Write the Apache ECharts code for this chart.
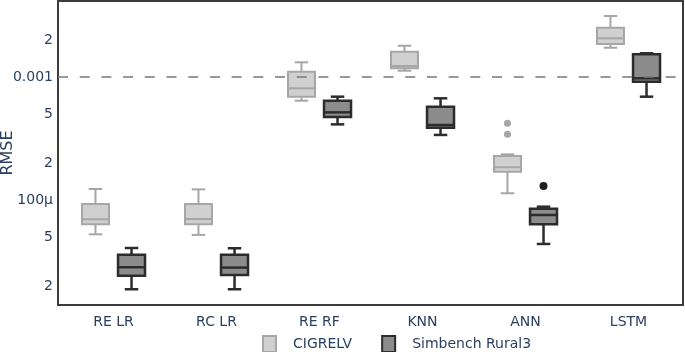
<!DOCTYPE html>
<html><head><meta charset="utf-8">
<script src="https://cdn.jsdelivr.net/npm/echarts@6/dist/echarts.min.js"></script>
<style>html,body{margin:0;padding:0;background:#fff}#c{width:685px;height:352px}</style>
</head><body><div id="c"></div>
<script>
const categories = ['RE LR', 'RC LR', 'RE RF', 'KNN', 'ANN', 'LSTM'];

const cigreMin = [5.26e-5, 5.2e-5, 6.42e-4, 1.125e-3, 1.134e-4, 1.73e-3];
const cigreQ1  = [6.34e-5, 6.34e-5, 6.92e-4, 1.177e-3, 1.70e-4, 1.855e-3];
const cigreMed = [6.97e-5, 7.0e-5, 8.09e-4, 1.229e-3, 1.845e-4, 2.063e-3];
const cigreQ3  = [9.28e-5, 9.28e-5, 1.104e-3, 1.607e-3, 2.279e-4, 2.517e-3];
const cigreMax = [1.228e-4, 1.22e-4, 1.317e-3, 1.796e-3, 2.352e-4, 3.134e-3];
const cigreOutlierCat = [4, 4];
const cigreOutlierVal = [4.20e-4, 3.42e-4];

const simMin = [1.88e-5, 1.88e-5, 4.12e-4, 3.38e-4, 4.39e-5, 6.92e-4];
const simQ1  = [2.42e-5, 2.45e-5, 4.73e-4, 3.87e-4, 6.34e-5, 9.16e-4];
const simMed = [2.84e-5, 2.82e-5, 5.16e-4, 4.07e-4, 7.55e-5, 9.76e-4];
const simQ3  = [3.59e-5, 3.59e-5, 6.42e-4, 5.74e-4, 8.50e-5, 1.53e-3];
const simMax = [4.07e-5, 4.05e-5, 6.92e-4, 6.71e-4, 8.82e-5, 1.559e-3];
const simOutlierCat = [4];
const simOutlierVal = [1.30e-4];

const yTickValues = [2e-3, 1e-3, 5e-4, 2e-4, 1e-4, 5e-5, 2e-5];
const yTickLabels = ['2', '0.001', '5', '2', '100μ', '5', '2'];
const refLineValue = 1e-3;
const yMin = 1.40e-5, yMax = 4.15e-3;

const FONT = 'DejaVu Sans';
const TXT = '#2a3f5f';
const BOX_FRAC = 0.262;
const OFF_FRAC = 0.175;

function boxRenderer(offFrac, stroke, fill, lw) {
  return function (params, api) {
    const i = api.value(0);
    const band = api.size([1, 0])[0];
    const cx = api.coord([i, api.value(3)])[0] + offFrac * band;
    const w = band * BOX_FRAC;
    const y = k => api.coord([i, api.value(k)])[1];
    const yMn = y(1), yQ1 = y(2), yMd = y(3), yQ3 = y(4), yMx = y(5);
    const ls = {stroke: stroke, lineWidth: lw, fill: null};
    return {type: 'group', children: [
      {type: 'line', shape: {x1: cx, y1: yQ3, x2: cx, y2: yMx}, style: ls},
      {type: 'line', shape: {x1: cx, y1: yQ1, x2: cx, y2: yMn}, style: ls},
      {type: 'line', shape: {x1: cx - w / 4, y1: yMx, x2: cx + w / 4, y2: yMx}, style: ls},
      {type: 'line', shape: {x1: cx - w / 4, y1: yMn, x2: cx + w / 4, y2: yMn}, style: ls},
      {type: 'rect', shape: {x: cx - w / 2, y: yQ3, width: w, height: yQ1 - yQ3}, style: {fill: fill, stroke: stroke, lineWidth: lw}},
      {type: 'line', shape: {x1: cx - w / 2, y1: yMd, x2: cx + w / 2, y2: yMd}, style: ls}
    ]};
  };
}
function outlierRenderer(offFrac, color, r) {
  return function (params, api) {
    const band = api.size([1, 0])[0];
    const p = api.coord([api.value(0), api.value(1)]);
    return {type: 'circle', shape: {cx: p[0] + offFrac * band, cy: p[1], r: r}, style: {fill: color}};
  };
}

const cigreData = categories.map((c, i) => [i, cigreMin[i], cigreQ1[i], cigreMed[i], cigreQ3[i], cigreMax[i]]);
const simData = categories.map((c, i) => [i, simMin[i], simQ1[i], simMed[i], simQ3[i], simMax[i]]);
const cigreOut = cigreOutlierCat.map((c, i) => [c, cigreOutlierVal[i]]);
const simOut = simOutlierCat.map((c, i) => [c, simOutlierVal[i]]);

const LIGHT_STROKE = '#a6a6a6', LIGHT_FILL = '#d0d0d0';
const DARK_STROKE = '#2c2c2c', DARK_FILL = '#8c8c8c';

const chart = echarts.init(document.getElementById('c'), null, {renderer: 'canvas'});
chart.setOption({
  animation: false,
  backgroundColor: '#fff',
  textStyle: {fontFamily: FONT},
  grid: [
    {left: 62, top: 1, width: 618, height: 304, show: false, containLabel: false, outerBoundsMode: 'none'},
    {left: 58, top: 1, width: 625, height: 304, show: true, containLabel: false, outerBoundsMode: 'none',
     borderColor: '#3c3c3c', borderWidth: 2, backgroundColor: 'transparent'}
  ],
  xAxis: [
    {type: 'category', gridIndex: 0, data: categories,
     axisLine: {show: false}, axisTick: {show: false}, splitLine: {show: false},
     axisLabel: {color: TXT, fontSize: 14, fontFamily: FONT, margin: 10}},
    {type: 'value', gridIndex: 1, min: 0, max: 1, show: false}
  ],
  yAxis: [
    {type: 'log', gridIndex: 0, logBase: 10, min: yMin, max: yMax,
     axisLine: {show: false}, axisTick: {show: false}, splitLine: {show: false},
     axisLabel: {customValues: yTickValues, color: TXT, fontSize: 14, fontFamily: FONT, margin: 9, align: 'right',
       formatter: function (v) {
         for (let k = 0; k < yTickValues.length; k++) {
           if (Math.abs(v - yTickValues[k]) / yTickValues[k] < 1e-6) return yTickLabels[k];
         }
         return '';
       }},
     name: 'RMSE', nameLocation: 'middle', nameGap: 46, nameMoveOverlap: false,
     nameTextStyle: {color: TXT, fontSize: 16, fontFamily: FONT}},
    {type: 'log', gridIndex: 1, logBase: 10, min: yMin, max: yMax, show: false}
  ],
  legend: {
    left: 262, top: 335, padding: 0, itemWidth: 13, itemHeight: 16, itemGap: 29,
    textStyle: {color: TXT, fontSize: 14, fontFamily: FONT, padding: [0, 0, 0, 12]},
    data: [
      {name: 'CIGRELV', icon: 'rect', itemStyle: {color: LIGHT_FILL, borderColor: LIGHT_STROKE, borderWidth: 2}},
      {name: 'Simbench Rural3', icon: 'rect', itemStyle: {color: DARK_FILL, borderColor: DARK_STROKE, borderWidth: 2}}
    ]
  },
  series: [
    {type: 'custom', name: 'CIGRELV', xAxisIndex: 0, yAxisIndex: 0, z: 2,
     itemStyle: {color: LIGHT_FILL, borderColor: LIGHT_STROKE},
     encode: {x: 0, y: [1, 2, 3, 4, 5]}, data: cigreData,
     renderItem: boxRenderer(-OFF_FRAC, LIGHT_STROKE, LIGHT_FILL, 2)},
    {type: 'custom', name: 'Simbench Rural3', xAxisIndex: 0, yAxisIndex: 0, z: 2,
     itemStyle: {color: DARK_FILL, borderColor: DARK_STROKE},
     encode: {x: 0, y: [1, 2, 3, 4, 5]}, data: simData,
     renderItem: boxRenderer(OFF_FRAC, DARK_STROKE, DARK_FILL, 2.5)},
    {type: 'custom', name: 'CIGRELV', xAxisIndex: 0, yAxisIndex: 0, z: 2,
     encode: {x: 0, y: 1}, data: cigreOut,
     renderItem: outlierRenderer(-OFF_FRAC, LIGHT_STROKE, 3.5)},
    {type: 'custom', name: 'Simbench Rural3', xAxisIndex: 0, yAxisIndex: 0, z: 2,
     encode: {x: 0, y: 1}, data: simOut,
     renderItem: outlierRenderer(OFF_FRAC, '#1e1e1e', 4)},
    {type: 'line', xAxisIndex: 1, yAxisIndex: 1, z: 10, silent: true, symbol: 'none',
     data: [[0, refLineValue], [1, refLineValue]],
     lineStyle: {color: '#777', width: 1.5, type: [10, 11.7]}}
  ]
});
</script>
</body></html>
